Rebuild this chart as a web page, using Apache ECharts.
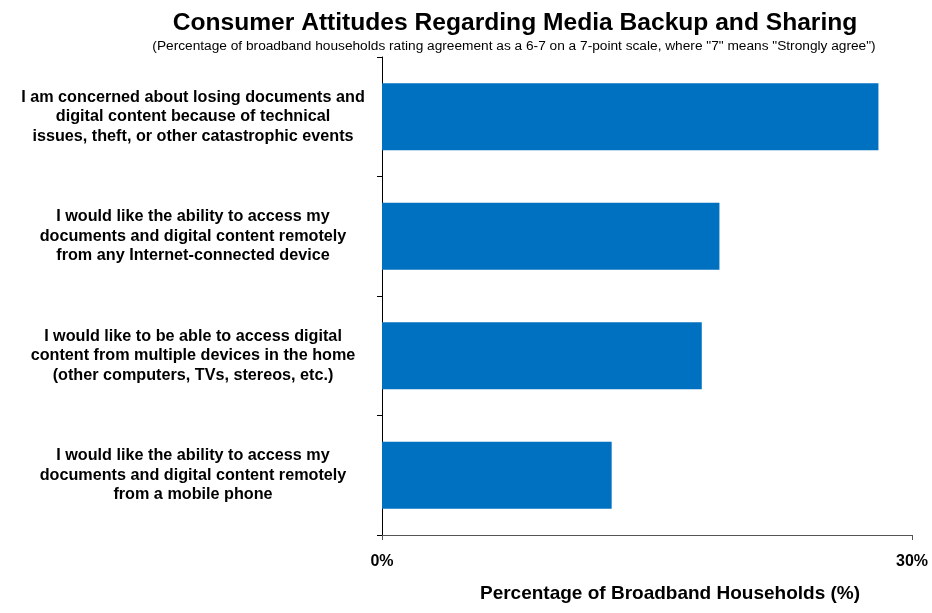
<!DOCTYPE html>
<html>
<head>
<meta charset="utf-8">
<script src="https://cdn.jsdelivr.net/npm/echarts@6/dist/echarts.min.js"></script>
<style>html,body{margin:0;padding:0;background:#fff}#c{width:932px;height:613px}</style>
</head>
<body>
<div id="c"></div>
<script>
var categories = [
  "I am concerned about losing documents and\ndigital content because of technical\nissues, theft, or other catastrophic events",
  "I would like the ability to access my\ndocuments and digital content remotely\nfrom any Internet-connected device",
  "I would like to be able to access digital\ncontent from multiple devices in the home\n(other computers, TVs, stereos, etc.)",
  "I would like the ability to access my\ndocuments and digital content remotely\nfrom a mobile phone"
];
var values = [28.1, 19.1, 18.1, 13.0];
var xTicks = [0, 30];

var chart = echarts.init(document.getElementById('c'));
chart.setOption({
  animation: false,
  title: [{
    text: 'Consumer Attitudes Regarding Media Backup and Sharing',
    left: 510, top: 6, textAlign: 'center',
    textStyle: {fontFamily: 'Liberation Sans, Arial', fontWeight: 'bold', fontSize: 24.6, color: '#000'}
  }, {
    text: '(Percentage of broadband households rating agreement as a 6-7 on a 7-point scale, where "7" means "Strongly agree")',
    left: 509, top: 34, textAlign: 'center',
    textStyle: {fontFamily: 'Liberation Sans, Arial', fontWeight: 'normal', fontSize: 13.7, color: '#000'}
  }],
  grid: {left: 382, right: 20, top: 57, bottom: 78, containLabel: false},
  xAxis: {
    type: 'value', min: xTicks[0], max: xTicks[1], interval: 30,
    axisLine: {show: true, lineStyle: {color: '#555', width: 1}},
    axisTick: {show: true, length: 5, lineStyle: {color: '#555'}},
    splitLine: {show: false},
    axisLabel: {formatter: '{value}%', margin: 19, fontFamily: 'Liberation Sans, Arial', fontWeight: 'bold', fontSize: 16, color: '#000'},
    name: 'Percentage of Broadband Households (%)',
    nameLocation: 'middle', nameGap: 49,
    nameTextStyle: {fontFamily: 'Liberation Sans, Arial', fontWeight: 'bold', fontSize: 19, color: '#000', padding: [0, 0, 0, 46]}
  },
  yAxis: {
    type: 'category', data: categories, inverse: true,
    axisLine: {show: true, lineStyle: {color: '#000', width: 1}},
    axisTick: {show: true, length: 5, lineStyle: {color: '#000'}},
    axisLabel: {align: 'center', margin: 189, lineHeight: 19.5, fontFamily: 'Liberation Sans, Arial', fontWeight: 'bold', fontSize: 16.2, color: '#000'}
  },
  series: [{
    type: 'bar', data: values, barWidth: '56%',
    itemStyle: {color: '#0070C0'}
  }]
});
</script>
</body>
</html>
